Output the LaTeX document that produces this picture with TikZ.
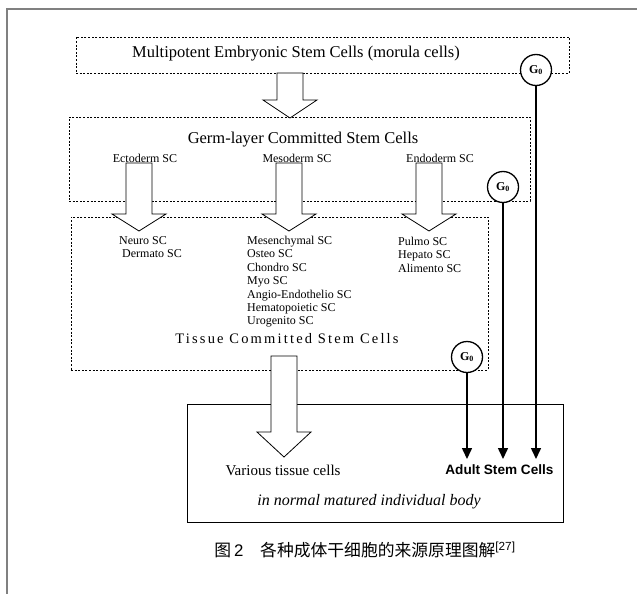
\documentclass[tikz,border=0pt]{standalone}
\usepackage{fontspec}
\setmainfont{Liberation Serif}
\newfontfamily\arialfont{Liberation Sans}
\newfontfamily\cjk{Noto Sans CJK SC}
\usetikzlibrary{arrows.meta}

\begin{document}
\begin{tikzpicture}
  [x=1pt,y=-1pt,
   dotbox/.style={draw,dash pattern=on 2pt off 1.6pt,line width=.7pt,inner sep=0},
   solidbox/.style={draw,line width=.8pt,inner sep=0},
   bigarrow/.style={draw,fill=white,line width=.8pt},
   gnode/.style={circle,draw,fill=white,line width=1.3pt,minimum size=31pt,inner sep=0,
     font=\bfseries\fontsize{12}{12}\selectfont},
   gline/.style={line width=1.5pt,-{Triangle[length=11pt,width=10pt]}},
   sclabel/.style={font=\fontsize{12}{13.4}\selectfont,inner sep=0},
   sclist/.style={font=\fontsize{12}{13.4}\selectfont,inner sep=0,anchor=north west,align=left}]
  \useasboundingbox (0,0) rectangle (637,594);
  \draw[gray,line width=2pt] (7,594) -- (7,9) -- (637,9);

  \node[dotbox,minimum width=493pt,minimum height=36pt] (emb) at (322.5,55) {};
  \node[font=\fontsize{16.5}{16.5}\selectfont] (embt) at (296,54) {Multipotent Embryonic Stem Cells (morula cells)};

  \node[dotbox,minimum width=461pt,minimum height=84pt] (germ) at (299.5,159) {};
  \node[font=\fontsize{16.5}{16.5}\selectfont] (germt) at (303,140) {Germ-layer Committed Stem Cells};
  \node[sclabel] (ecto) at (145,158) {Ectoderm SC};
  \node[sclabel] (meso) at (297,158) {Mesoderm SC};
  \node[sclabel] (endo) at (440,158) {Endoderm SC};

  \node[dotbox,minimum width=417pt,minimum height=153pt] (tissue) at (279.5,293.5) {};
  \node[sclist] (ectol) at (119,236) {Neuro SC\\\ Dermato SC};
  \node[sclist] (mesol) at (247,236) {Mesenchymal SC\\Osteo SC\\Chondro SC\\Myo SC\\
    Angio-Endothelio SC\\Hematopoietic SC\\Urogenito SC};
  \node[sclist] (endol) at (398,237) {Pulmo SC\\Hepato SC\\Alimento SC};
  \node[font=\fontsize{14.5}{14.5}\selectfont\addfontfeatures{LetterSpace=15}] (tissuet) at (287,339)
    {Tissue Committed Stem Cells};

  \node[solidbox,minimum width=376pt,minimum height=118pt] (body) at (375,463) {};
  \node[font=\fontsize{15}{15}\selectfont,anchor=west] (various) at (222,470) {Various tissue cells};
  \node[font=\arialfont\bfseries\fontsize{13.6}{13.6}\selectfont,anchor=east] (adult) at (557,470) {Adult Stem Cells};
  \node[font=\itshape\fontsize{16}{16}\selectfont] (indiv) at (369,502) {in normal matured individual body};

  \foreach \x/\t/\h/\b in {290/73/100/118,139/163/214/231,289/163/214/231,429/163/214/231,284/356/432/457}
    \draw[bigarrow] (\x-13,\t) -- (\x+13,\t) -- (\x+13,\h) -- (\x+27,\h) -- (\x,\b)
      -- (\x-27,\h) -- (\x-13,\h) -- cycle;

  \node[gnode] (g1) at (536,70) {G\textsubscript{0}};
  \node[gnode] (g2) at (503,187) {G\textsubscript{0}};
  \node[gnode] (g3) at (467,357) {G\textsubscript{0}};
  \coordinate (a1) at (536,459);
  \coordinate (a2) at (503,459);
  \coordinate (a3) at (467,459);

  \foreach \from/\to in {g1/a1,g2/a2,g3/a3}
    \draw[gline] (\from) -- (\to);

  \node[font=\fontsize{16.8}{16.8}\selectfont] (cap) at (365,550)
    {\cjk 图\,\arialfont 2\quad\cjk 各种成体干细胞的来源原理图解\textsuperscript{\arialfont[27]}};
\end{tikzpicture}
\end{document}
